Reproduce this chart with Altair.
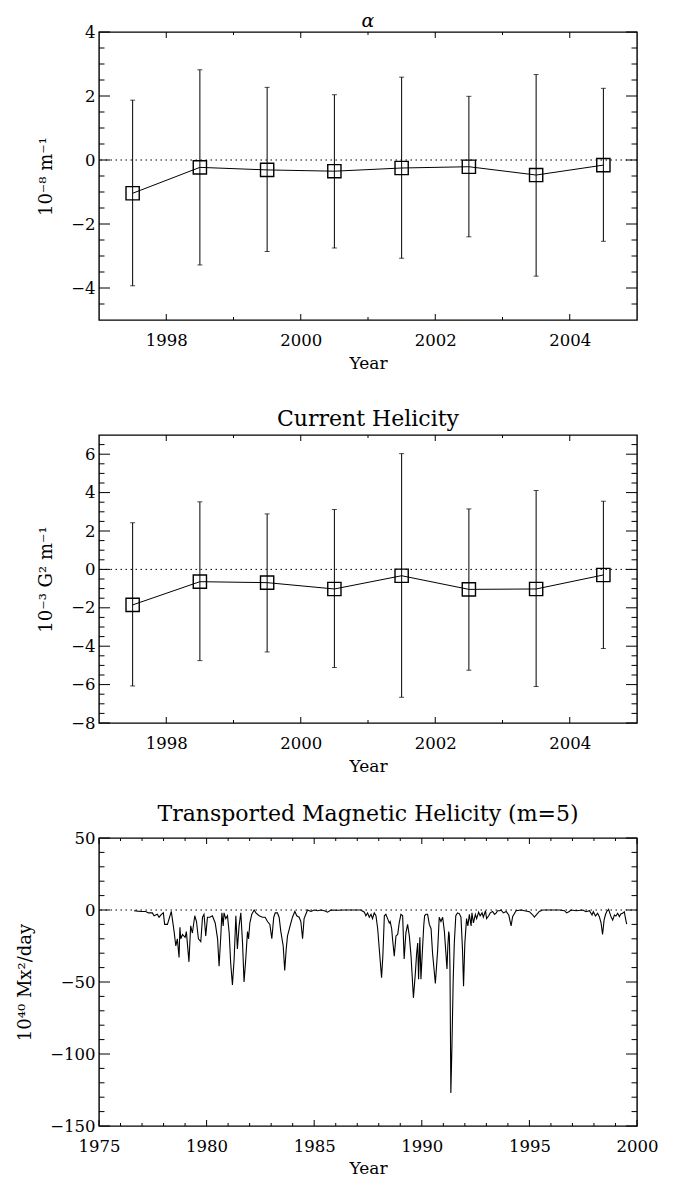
import altair as alt
import pandas as pd

FONT = "DejaVu Serif"
W, H = 538, 288

# ---------------- data ----------------
years = [1997.5, 1998.5, 1999.5, 2000.5, 2001.5, 2002.5, 2003.5, 2004.5]

alpha_mean = [-1.04, -0.23, -0.31, -0.35, -0.25, -0.21, -0.47, -0.16]
alpha_hi = [1.87, 2.82, 2.27, 2.04, 2.59, 1.99, 2.67, 2.24]
alpha_lo = [-3.93, -3.28, -2.86, -2.75, -3.07, -2.40, -3.63, -2.54]

hc_mean = [-1.85, -0.64, -0.69, -1.02, -0.33, -1.04, -1.02, -0.29]
hc_hi = [2.43, 3.52, 2.89, 3.12, 6.03, 3.15, 4.11, 3.55]
hc_lo = [-6.07, -4.75, -4.30, -5.11, -6.66, -5.25, -6.10, -4.12]

mh_year = [
    1976.63, 1976.80, 1977.00, 1977.17, 1977.30, 1977.48, 1977.56, 1977.71, 1977.79, 1977.90,
    1977.99, 1978.05, 1978.18, 1978.36, 1978.49, 1978.57, 1978.64, 1978.72, 1978.76, 1978.80,
    1978.88, 1979.00, 1979.06, 1979.18, 1979.26, 1979.34, 1979.45, 1979.53, 1979.62, 1979.73,
    1979.81, 1979.88, 1979.96, 1980.04, 1980.15, 1980.27, 1980.40, 1980.51, 1980.58, 1980.66,
    1980.71, 1980.77, 1980.81, 1980.89, 1980.97, 1981.05, 1981.12, 1981.20, 1981.28, 1981.36,
    1981.43, 1981.51, 1981.59, 1981.67, 1981.74, 1981.82, 1981.90, 1981.95, 1982.01, 1982.10,
    1982.21, 1982.29, 1982.44, 1982.60, 1982.72, 1982.83, 1982.94, 1983.03, 1983.12, 1983.19,
    1983.29, 1983.37, 1983.45, 1983.56, 1983.63, 1983.70, 1983.76, 1983.88, 1983.99, 1984.10,
    1984.19, 1984.30, 1984.38, 1984.46, 1984.53, 1984.61, 1984.69, 1984.85, 1985.00, 1985.16,
    1985.31, 1985.47, 1985.62, 1985.78, 1986.09, 1986.40, 1986.71, 1987.17, 1987.33, 1987.40,
    1987.48, 1987.56, 1987.64, 1987.71, 1987.79, 1987.87, 1987.95, 1988.05, 1988.13, 1988.19,
    1988.26, 1988.33, 1988.41, 1988.49, 1988.53, 1988.60, 1988.64, 1988.72, 1988.80, 1988.88,
    1988.95, 1989.03, 1989.11, 1989.18, 1989.26, 1989.34, 1989.42, 1989.50, 1989.61, 1989.70,
    1989.76, 1989.81, 1989.85, 1989.91, 1989.96, 1990.04, 1990.09, 1990.13, 1990.19, 1990.27,
    1990.35, 1990.43, 1990.50, 1990.63, 1990.74, 1990.81, 1990.89, 1990.97, 1991.05, 1991.12,
    1991.17, 1991.21, 1991.25, 1991.28, 1991.31, 1991.35, 1991.40, 1991.46, 1991.51, 1991.58,
    1991.66, 1991.74, 1991.82, 1991.89, 1991.94, 1992.00, 1992.08, 1992.14, 1992.21, 1992.29,
    1992.33, 1992.40, 1992.49, 1992.55, 1992.64, 1992.71, 1992.80, 1992.86, 1992.96, 1993.01,
    1993.11, 1993.18, 1993.29, 1993.38, 1993.46, 1993.52, 1993.62, 1993.68, 1993.79, 1993.92,
    1994.04, 1994.15, 1994.22, 1994.38, 1994.61, 1994.77, 1995.00, 1995.16, 1995.23, 1995.34,
    1995.46, 1995.62, 1995.77, 1996.08, 1996.39, 1996.63, 1996.73, 1996.83, 1996.94, 1997.17,
    1997.48, 1997.63, 1997.79, 1997.91, 1997.97, 1998.07, 1998.17, 1998.25, 1998.33, 1998.40,
    1998.47, 1998.53, 1998.59, 1998.68, 1998.79, 1998.87, 1998.95, 1999.02, 1999.10, 1999.18,
    1999.25, 1999.33, 1999.41, 1999.45, 1999.52,
]
mh_value = [
    -0.5, -0.8, -1.0, -1.0, -2.0, -2.0, -4.0, -3.0, -5.0, -3.0,
    -2.0, -10.0, -10.0, -1.0, -15.0, -25.0, -20.0, -33.0, -12.0, -20.0,
    -17.0, -19.0, -15.0, -36.0, -11.0, -16.0, -4.0, -8.0, -20.0, -22.0,
    -5.0, -3.0, -18.0, -5.0, -5.0, -4.0, -9.0, -20.0, -39.0, -18.0,
    -2.0, -11.0, -2.0, -6.0, -4.0, -16.0, -37.0, -52.0, -34.0, -4.0,
    -27.0, -11.0, -2.0, -23.0, -50.0, -34.0, -15.0, -20.0, -9.0, -3.0,
    0.0, -2.0, -4.0, -5.0, -5.0, -8.0, -10.0, -20.0, -5.0, -2.0,
    -2.0, -5.0, -15.0, -25.0, -42.0, -27.0, -18.0, -11.0, -5.0, -1.0,
    -4.0, -5.0, -8.0, -20.0, -6.0, -3.0, 0.0, -1.0, 0.0, -0.5,
    0.0, -0.5, -1.5, 0.0, -0.2, 0.0, 0.0, 0.0, -1.5, -4.0,
    -2.0, -5.0, -3.0, -6.0, -2.0, -4.0, -13.0, -32.0, -47.0, -32.0,
    -4.0, -3.0, -6.0, -9.0, -8.0, -13.0, -20.0, -32.0, -18.0, -17.0,
    -9.0, -3.0, -4.0, -34.0, -16.0, -10.0, -18.0, -32.0, -61.0, -44.0,
    -30.0, -23.0, -48.0, -19.0, -48.0, -25.0, -11.0, -4.0, -3.0, -3.0,
    -10.0, -13.0, -30.0, -51.0, -27.0, -5.0, -8.0, -5.0, -15.0, -30.0,
    -41.0, -25.0, -15.0, -18.0, -41.0, -127.0, -95.0, -48.0, -23.0, -4.0,
    -2.0, -2.5, -5.0, -27.0, -53.0, -23.0, -6.0, -11.0, -3.0, -11.0,
    -2.0, -9.0, -3.0, -6.0, -1.5, -4.0, -2.0, -5.0, -0.5, -6.0,
    -4.0, -2.0, -1.0, -3.0, -2.0, -0.5, -0.5, 0.0, -2.0, -1.0,
    -3.5, -11.0, -4.6, -0.5, 0.0, -0.5, -1.2, -3.5, -5.0, -3.0,
    -1.0, 0.0, 0.0, 0.0, 0.0, -0.5, -2.0, -1.2, 0.0, -0.5,
    0.0, -1.2, -0.5, -3.5, -1.2, -4.2, -2.3, -4.6, -9.0, -17.0,
    -7.0, -3.5, -1.2, 0.5, -4.6, -7.0, -3.5, -4.2, -2.3, -4.6,
    -2.8, -2.3, -1.2, -4.6, -9.8,
]

# axis tick values
x_major_recent = [1998, 2000, 2002, 2004]
x_minor_recent = [1999, 2001, 2003]
alpha_y_major = [-4, -2, 0, 2, 4]
alpha_y_minor = [-4.5, -3.5, -3, -2.5, -1.5, -1, -0.5, 0.5, 1, 1.5, 2.5, 3, 3.5]
hc_y_major = [-8, -6, -4, -2, 0, 2, 4, 6]
hc_y_minor = [-7.5, -7, -6.5, -5.5, -5, -4.5, -3.5, -3, -2.5, -1.5, -1, -0.5,
              0.5, 1, 1.5, 2.5, 3, 3.5, 4.5, 5, 5.5, 6.5]
mh_x_major = [1975, 1980, 1985, 1990, 1995, 2000]
mh_x_minor = [y for y in range(1976, 2000) if y % 5 != 0]
mh_y_major = [-150, -100, -50, 0, 50]
mh_y_minor = [v for v in range(-140, 50, 10) if v % 50 != 0]

# ---------------- helpers ----------------
TX_MAJ, TX_MIN = 6, 3
TY_MAJ, TY_MIN = 11, 5.5


def x_axis(values, title_pad):
    return alt.Axis(values=values, format="d", ticks=False, tickSize=0, domain=False,
                    grid=False, labelFlush=False, labelOverlap=False, labelPadding=12,
                    title="Year", titlePadding=title_pad)


def y_axis(values, title):
    return alt.Axis(values=values, format="d", ticks=False, tickSize=0, domain=False,
                    grid=False, labelFlush=False, labelOverlap=False, labelPadding=4,
                    title=title, titlePadding=15)


def tick_layers(X, Y, x_major, x_minor, y_major, y_minor):
    layers = []
    for vals, L in ((x_major, TX_MAJ), (x_minor, TX_MIN)):
        base = alt.Chart(pd.DataFrame({"t": vals})).mark_rule(color="black", strokeWidth=1)
        layers.append(base.encode(x=X("t"), y=alt.value(H), y2=alt.value(H - L)))
        layers.append(base.encode(x=X("t"), y=alt.value(0), y2=alt.value(L)))
    for vals, L in ((y_major, TY_MAJ), (y_minor, TY_MIN)):
        base = alt.Chart(pd.DataFrame({"t": vals})).mark_rule(color="black", strokeWidth=1)
        layers.append(base.encode(y=Y("t"), x=alt.value(0), x2=alt.value(L)))
        layers.append(base.encode(y=Y("t"), x=alt.value(W - L), x2=alt.value(W)))
    return layers


def zero_line(Y):
    return alt.Chart(pd.DataFrame({"z": [0]})).mark_rule(
        color="black", strokeWidth=1, strokeDash=[1.5, 3.5]
    ).encode(y=Y("z"))


def encoders(xdom, ydom, x_major, y_major, ytitle, title_pad=7):
    xs = alt.Scale(domain=xdom, nice=False, zero=False)
    ys = alt.Scale(domain=ydom, nice=False, zero=False)
    xa = x_axis(x_major, title_pad)
    ya = y_axis(y_major, ytitle)

    def X(f):
        return alt.X(f, type="quantitative", scale=xs, axis=xa)

    def Y(f):
        return alt.Y(f, type="quantitative", scale=ys, axis=ya)

    return X, Y


def title_params(text, size, offset, italic=False):
    return alt.TitleParams(text, font=FONT, fontSize=size,
                           fontStyle="italic" if italic else "normal",
                           fontWeight="normal", offset=offset, anchor="middle", color="black")


def err_panel(mean, lo, hi, ydom, y_major, y_minor, ytitle, title, size, offset, italic=False):
    X, Y = encoders([1997, 2005], ydom, x_major_recent, y_major, ytitle)
    df = pd.DataFrame({"year": years, "mean": mean, "lo": lo, "hi": hi})
    bars = alt.Chart(df).mark_rule(color="black", strokeWidth=1).encode(
        x=X("year"), y=Y("lo"), y2="hi")
    cap_lo = alt.Chart(df).mark_tick(orient="horizontal", size=5, thickness=1, color="black").encode(
        x=X("year"), y=Y("lo"))
    cap_hi = alt.Chart(df).mark_tick(orient="horizontal", size=5, thickness=1, color="black").encode(
        x=X("year"), y=Y("hi"))
    line = alt.Chart(df).mark_line(color="black", strokeWidth=1).encode(x=X("year"), y=Y("mean"))
    pts = alt.Chart(df).mark_point(shape="square", size=175, filled=False, color="black",
                                   strokeWidth=1.4, opacity=1).encode(x=X("year"), y=Y("mean"))
    layers = [bars, zero_line(Y), cap_lo, cap_hi, line, pts] + tick_layers(
        X, Y, x_major_recent, x_minor_recent, y_major, y_minor)
    return alt.layer(*layers).properties(
        width=W, height=H, title=title_params(title, size, offset, italic))


p1 = err_panel(alpha_mean, alpha_lo, alpha_hi, [-5, 4], alpha_y_major, alpha_y_minor,
               "10⁻⁸ m⁻¹", "α", 19, -7, italic=True)
p2 = err_panel(hc_mean, hc_lo, hc_hi, [-8, 7], hc_y_major, hc_y_minor,
               "10⁻³ G² m⁻¹", "Current Helicity", 22, 4)

X3, Y3 = encoders([1975, 2000], [-150, 50], mh_x_major, mh_y_major, "10⁴⁰ Mx²/day", 6)
mh = pd.DataFrame({"year": mh_year, "value": mh_value})
mh_line = alt.Chart(mh).mark_line(color="black", strokeWidth=1.1).encode(
    x=X3("year"), y=Y3("value"))
p3 = alt.layer(
    mh_line, zero_line(Y3), *tick_layers(X3, Y3, mh_x_major, mh_x_minor, mh_y_major, mh_y_minor)
).properties(width=W, height=H,
             title=title_params("Transported Magnetic Helicity (m=5)", 22, 4))

chart = alt.vconcat(p1, p2, p3, spacing=115, bounds="flush").properties(
    padding={"left": 7, "top": 3, "right": 5, "bottom": 0},
    background="white",
).configure_view(
    stroke="black", strokeWidth=1.4
).configure_axis(
    labelFont=FONT, labelFontSize=16.5, labelColor="black",
    titleFont=FONT, titleFontSize=17, titleFontWeight="normal", titleColor="black",
).configure_axisLeft(
    titleFontSize=18
)

chart.save("out.html", embed_options={"renderer": "svg", "actions": False})
